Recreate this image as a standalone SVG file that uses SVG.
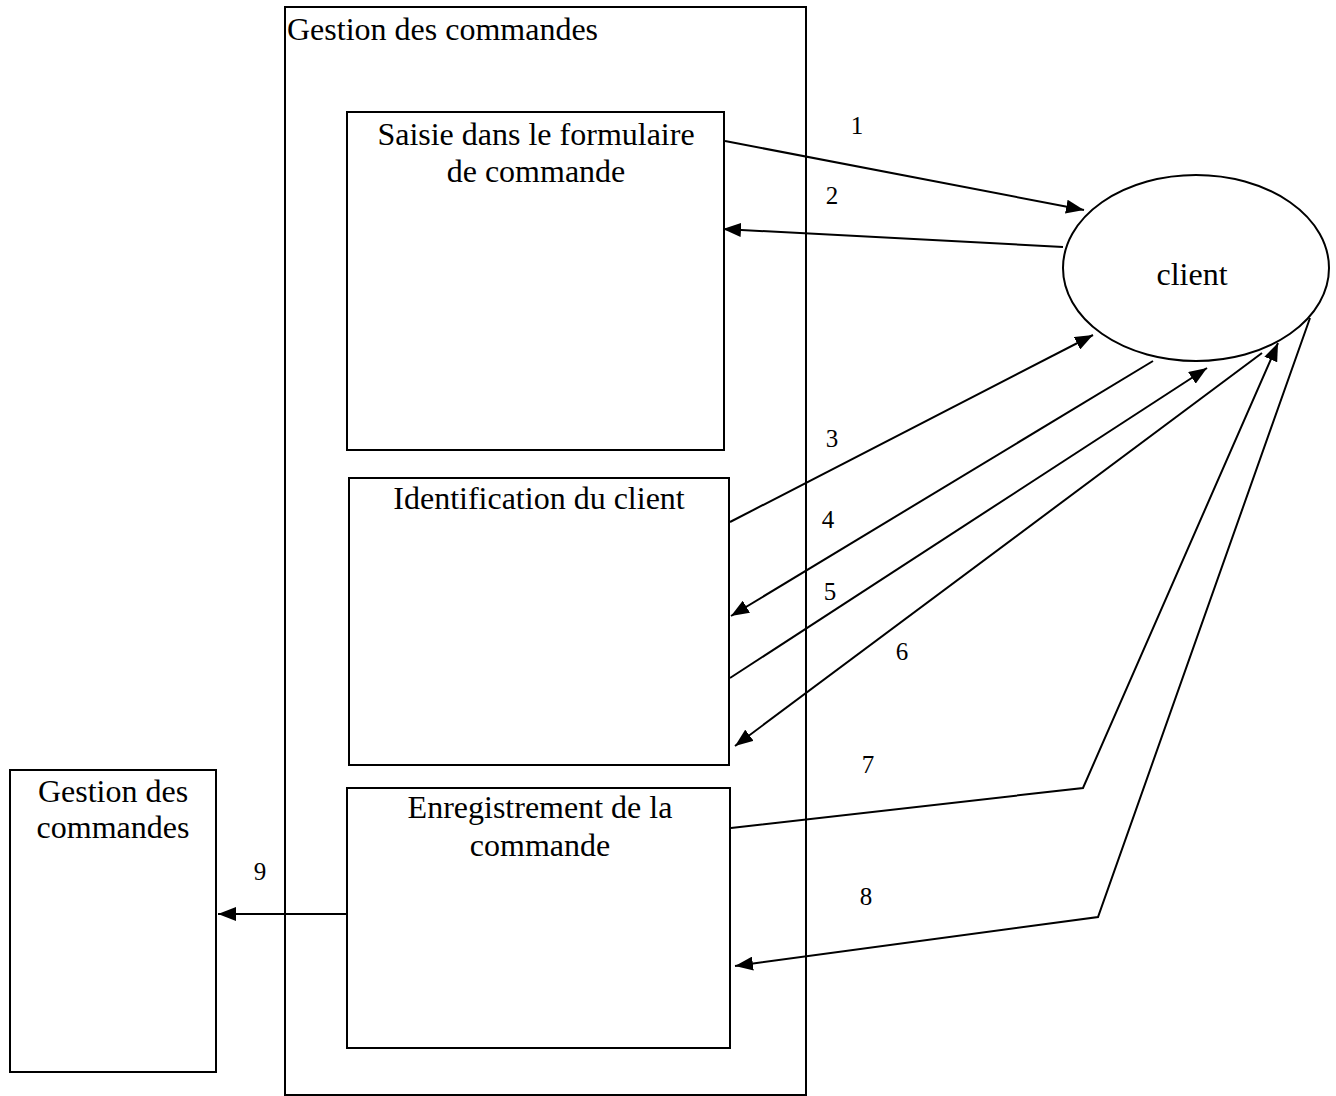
<svg xmlns="http://www.w3.org/2000/svg" width="1336" height="1096" viewBox="0 0 1336 1096">
<defs>
<marker id="arr" markerUnits="userSpaceOnUse" markerWidth="20" markerHeight="14" refX="18" refY="7" orient="auto">
<path d="M0,0 L18,7 L0,14 z" fill="#000"/>
</marker>
<style>
.box{fill:none;stroke:#000;stroke-width:2}
.lbl{font-family:"Liberation Serif","Times New Roman",serif;font-size:32px;fill:#000}
.num{font-family:"Liberation Serif","Times New Roman",serif;font-size:25px;fill:#000;text-anchor:middle}
.c{text-anchor:middle}
.ln{fill:none;stroke:#000;stroke-width:2}
</style>
</defs>
<rect width="1336" height="1096" fill="#fff"/>
<g id="outer">
<rect class="box" x="285" y="7" width="521" height="1088"/>
<text class="lbl" x="287" y="40">Gestion des commandes</text>
</g>
<g id="saisie">
<rect class="box" x="347" y="112" width="377" height="338"/>
<text class="lbl c" x="536" y="145">Saisie dans le formulaire</text>
<text class="lbl c" x="536" y="182">de commande</text>
</g>
<g id="identification">
<rect class="box" x="349" y="478" width="380" height="287"/>
<text class="lbl c" x="539" y="509">Identification du client</text>
</g>
<g id="enregistrement">
<rect class="box" x="347" y="788" width="383" height="260"/>
<text class="lbl c" x="540" y="818">Enregistrement de la</text>
<text class="lbl c" x="540" y="856">commande</text>
</g>
<g id="gestion">
<rect class="box" x="10" y="770" width="206" height="302"/>
<text class="lbl c" x="113" y="802">Gestion des</text>
<text class="lbl c" x="113" y="838">commandes</text>
</g>
<g id="client">
<ellipse class="box" cx="1196" cy="268" rx="133" ry="93"/>
<text class="lbl c" x="1192" y="285">client</text>
</g>
<g id="connectors">
<line class="ln" x1="725" y1="141" x2="1084" y2="210" marker-end="url(#arr)"/>
<line class="ln" x1="1063" y1="247" x2="723" y2="229" marker-end="url(#arr)"/>
<line class="ln" x1="730" y1="522" x2="1093" y2="335" marker-end="url(#arr)"/>
<line class="ln" x1="1153" y1="361" x2="731" y2="616" marker-end="url(#arr)"/>
<line class="ln" x1="730" y1="678" x2="1207" y2="368" marker-end="url(#arr)"/>
<line class="ln" x1="1262" y1="353" x2="735" y2="746" marker-end="url(#arr)"/>
<polyline class="ln" points="731,828 1083,788 1278,343" marker-end="url(#arr)"/>
<polyline class="ln" points="1310,318 1098,917 735,966" marker-end="url(#arr)"/>
<line class="ln" x1="347" y1="914" x2="218" y2="914" marker-end="url(#arr)"/>
</g>
<g id="labels">
<text class="num" x="857" y="134">1</text>
<text class="num" x="832" y="204">2</text>
<text class="num" x="832" y="447">3</text>
<text class="num" x="828" y="528">4</text>
<text class="num" x="830" y="600">5</text>
<text class="num" x="902" y="660">6</text>
<text class="num" x="868" y="773">7</text>
<text class="num" x="866" y="905">8</text>
<text class="num" x="260" y="880">9</text>
</g>
</svg>
